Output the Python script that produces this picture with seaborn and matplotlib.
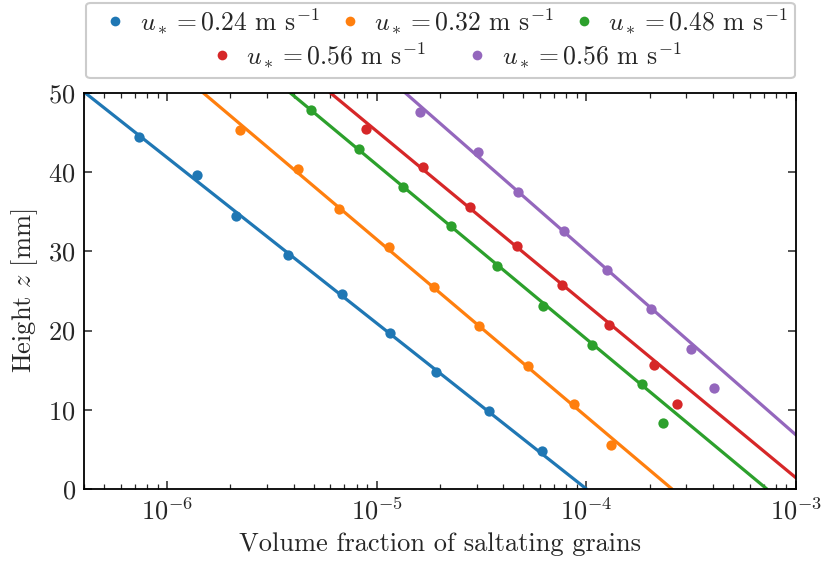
import numpy as np
import pandas as pd
import matplotlib
matplotlib.use("Agg")
import matplotlib.pyplot as plt
from matplotlib.lines import Line2D
from matplotlib.patches import FancyBboxPatch
import seaborn as sns

# Friction velocities (legend labels) and colours
labels = [
    r"$u_* = 0.24$ m s$^{-1}$",
    r"$u_* = 0.32$ m s$^{-1}$",
    r"$u_* = 0.48$ m s$^{-1}$",
    r"$u_* = 0.56$ m s$^{-1}$",
    r"$u_* = 0.56$ m s$^{-1}$",
]
colors = ["#1f77b4", "#ff7f0e", "#2ca02c", "#d62728", "#9467bd"]

# Measured profiles: height z [mm] and volume fraction phi
z_blue = [4.8, 9.8, 14.8, 19.7, 24.6, 29.5, 34.5, 39.6, 44.5]
phi_blue = [6.12e-5, 3.44e-5, 1.92e-5, 1.15e-5, 6.81e-6, 3.75e-6, 2.13e-6, 1.39e-6, 7.30e-7]

z_orange = [5.6, 10.7, 15.5, 20.6, 25.5, 30.5, 35.4, 40.4, 45.3]
phi_orange = [1.31e-4, 8.76e-5, 5.28e-5, 3.06e-5, 1.88e-5, 1.14e-5, 6.59e-6, 4.20e-6, 2.21e-6]

z_green = [8.3, 13.3, 18.2, 23.1, 28.2, 33.2, 38.1, 42.9, 47.9]
phi_green = [2.31e-4, 1.84e-4, 1.06e-4, 6.23e-5, 3.73e-5, 2.25e-5, 1.33e-5, 8.21e-6, 4.82e-6]

z_red = [10.7, 15.65, 20.7, 25.7, 30.7, 35.6, 40.6, 45.45]
phi_red = [2.70e-4, 2.10e-4, 1.28e-4, 7.62e-5, 4.65e-5, 2.79e-5, 1.66e-5, 8.86e-6]

z_purple = [12.75, 17.7, 22.7, 27.7, 32.6, 37.5, 42.6, 47.6]
phi_purple = [4.06e-4, 3.14e-4, 2.03e-4, 1.26e-4, 7.82e-5, 4.70e-5, 3.03e-5, 1.60e-5]

# Exponential fits phi = phi0 * exp(-z / decay_length)
fit_phi0 = [1.00e-4, 2.56e-4, 7.26e-4, 1.16e-3, 1.97e-3]
fit_decay_mm = [9.08, 9.71, 9.55, 9.50, 10.06]

z_sets = [z_blue, z_orange, z_green, z_red, z_purple]
phi_sets = [phi_blue, phi_orange, phi_green, phi_red, phi_purple]

FS = 19
LEG_FS = 18.5

sns.set_style("ticks")
plt.rcParams.update({
    "font.family": "serif",
    "font.serif": ["cmr10", "DejaVu Serif"],
    "mathtext.fontset": "cm",
    "axes.formatter.use_mathtext": True,
    "axes.unicode_minus": False,
    "font.size": FS,
})

fig = plt.figure(figsize=(8.23, 5.65), dpi=100)
ax = fig.add_axes([84 / 823, 76 / 565, 712 / 823, 396 / 565])
ax.set_xscale("log")

z_line = np.linspace(0, 60, 400)
for i in range(5):
    line_df = pd.DataFrame({
        "phi": fit_phi0[i] * np.exp(-z_line / fit_decay_mm[i]),
        "z": z_line,
    })
    sns.lineplot(data=line_df, x="phi", y="z", color=colors[i], lw=2.3,
                 ax=ax, legend=False, zorder=2)
    pts = pd.DataFrame({"phi": phi_sets[i], "z": z_sets[i]})
    sns.scatterplot(data=pts, x="phi", y="z", color=colors[i], s=55,
                    linewidth=0, ax=ax, legend=False, zorder=3)

ax.set_xlim(4e-7, 1e-3)
ax.set_ylim(0, 50)
ax.set_yticks([0, 10, 20, 30, 40, 50])
ax.set_xlabel("Volume fraction of saltating grains", fontsize=FS, labelpad=6)
ax.set_ylabel(r"Height $z$ [mm]", fontsize=FS, labelpad=6)

ax.tick_params(which="both", direction="in", top=True, right=True,
               labelsize=FS)
ax.tick_params(which="major", length=6, width=1.1, pad=6)
ax.tick_params(which="minor", length=3.5, width=0.9)
ax.tick_params(axis="y", which="minor", left=False, right=False)
for sp in ax.spines.values():
    sp.set_linewidth(1.3)
    sp.set_color("black")

# Legend: three entries on the first row, two centred on the second
handles = [Line2D([], [], ls="none", marker="o", ms=7, mew=0,
                  color=c) for c in colors]
leg1 = fig.legend(handles[:3], labels[:3], ncol=3, frameon=False,
                  loc="center", bbox_to_anchor=(0.541, 1 - 21 / 565),
                  fontsize=LEG_FS, handletextpad=0.45, columnspacing=0.68,
                  handlelength=1.0, borderpad=0.2)
leg2 = fig.legend(handles[3:], labels[3:], ncol=2, frameon=False,
                  loc="center", bbox_to_anchor=(0.541, 1 - 55 / 565),
                  fontsize=LEG_FS, handletextpad=0.45, columnspacing=1.5,
                  handlelength=1.0, borderpad=0.2)
frame = FancyBboxPatch((86 / 823, 1 - 78 / 565), (795 - 86) / 823, 75 / 565,
                       boxstyle="round,pad=0,rounding_size=0.006",
                       transform=fig.transFigure, facecolor="white",
                       edgecolor="#cccccc", linewidth=1.5, zorder=0)
fig.patches.append(frame)

fig.savefig("out.png", dpi=100)
